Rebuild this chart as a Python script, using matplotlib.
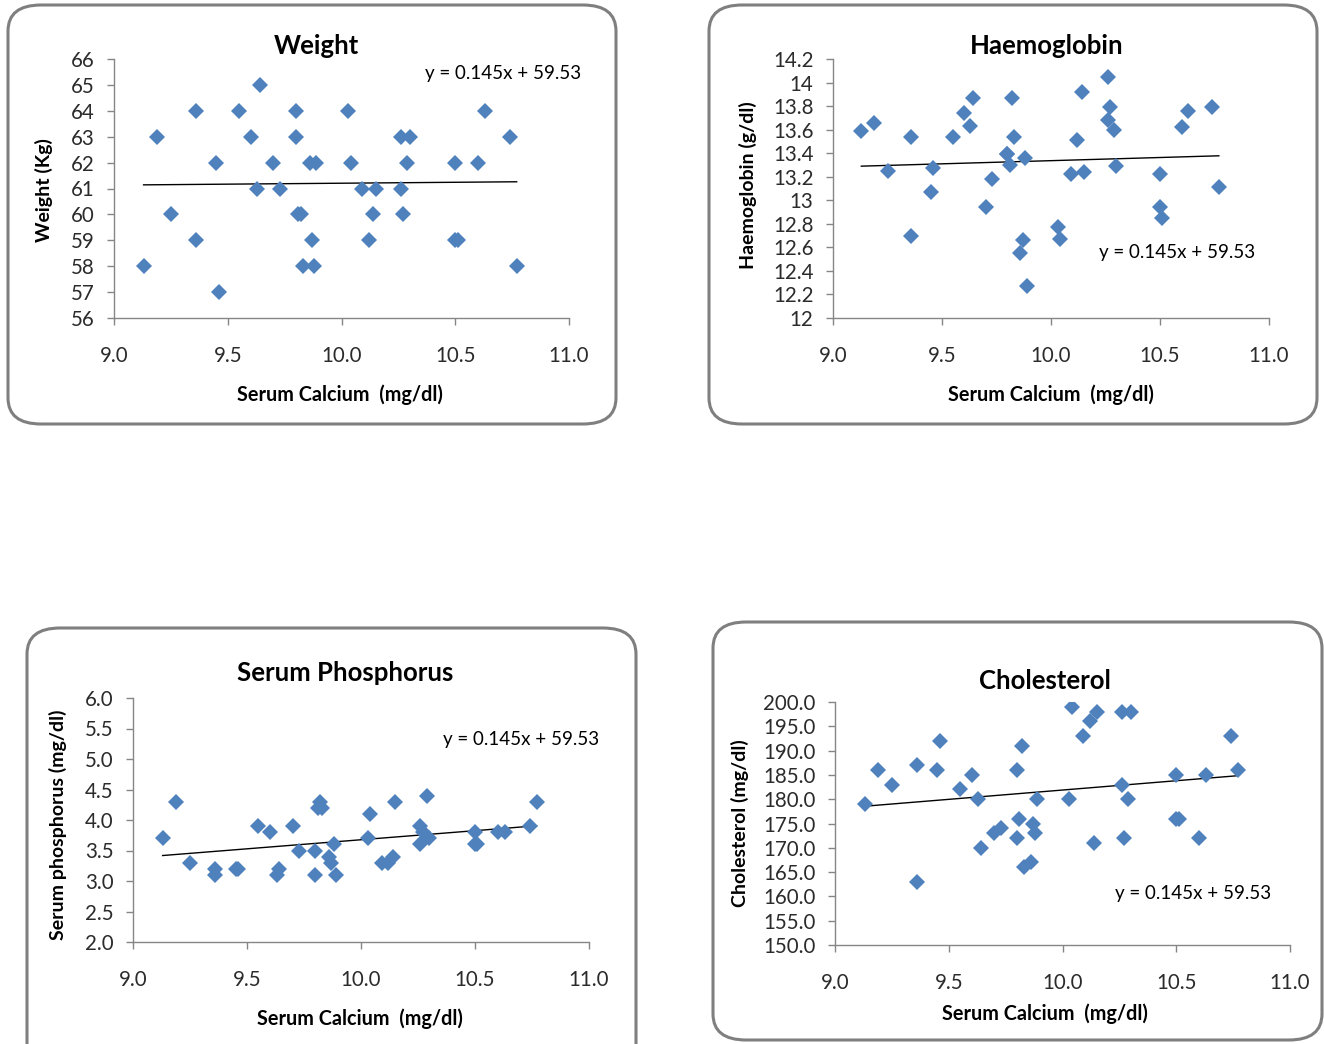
import numpy as np
import matplotlib
matplotlib.use("Agg")
import matplotlib.pyplot as plt
from matplotlib.patches import FancyBboxPatch

plt.rcParams['font.family'] = ['Lato', 'DejaVu Sans']

# serum calcium (mg/dl), shared x for every panel
calcium = [9.13, 9.19, 9.25, 9.36, 9.36, 9.45, 9.46, 9.55, 9.60, 9.63,
           9.64, 9.70, 9.73, 9.80, 9.80, 9.81, 9.82, 9.83, 9.86, 9.87,
           9.88, 9.89, 10.03, 10.04, 10.09, 10.12, 10.14, 10.15, 10.26, 10.26,
           10.27, 10.29, 10.30, 10.50, 10.50, 10.51, 10.60, 10.63, 10.74, 10.77]

weight = [58, 63, 60, 64, 59, 62, 57, 64, 63, 61,
          65, 62, 61, 64, 63, 60, 60, 58, 62, 59,
          58, 62, 64, 62, 61, 59, 60, 61, 63, 61,
          60, 62, 63, 62, 59, 59, 62, 64, 63, 58]

haemoglobin = [13.59, 13.66, 13.25, 13.54, 12.70, 13.07, 13.27, 13.54, 13.74, 13.63,
               13.87, 12.94, 13.18, 13.39, 13.39, 13.30, 13.87, 13.54, 12.55, 12.66,
               13.36, 12.27, 12.77, 12.67, 13.22, 13.51, 13.92, 13.24, 14.05, 13.68,
               13.79, 13.60, 13.29, 13.22, 12.94, 12.85, 13.62, 13.76, 13.79, 13.11]

phosphorus = [3.7, 4.3, 3.3, 3.2, 3.1, 3.2, 3.2, 3.9, 3.8, 3.1,
              3.2, 3.9, 3.5, 3.5, 3.1, 4.2, 4.3, 4.2, 3.4, 3.3,
              3.6, 3.1, 3.7, 4.1, 3.3, 3.3, 3.4, 4.3, 3.9, 3.6,
              3.8, 4.4, 3.7, 3.8, 3.6, 3.6, 3.8, 3.8, 3.9, 4.3]

cholesterol = [179, 186, 183, 187, 163, 186, 192, 182, 185, 180,
               170, 173, 174, 186, 172, 176, 191, 166, 167, 175,
               173, 180, 180, 199, 193, 196, 171, 198, 198, 183,
               172, 180, 198, 185, 176, 176, 172, 185, 193, 186]

equation = "y = 0.145x + 59.53"
xlabel = "Serum Calcium  (mg/dl)"

W, H = 1324, 1044
fig = plt.figure(figsize=(W / 100, H / 100), dpi=100)


def fx(x):
    return x / W


def fy(y):
    return 1 - y / H


blue = '#4F81BD'
grey = '#868686'

panels = [
    # title, ylabel, yvalues, ylim, ystep, yfmt, box, axes box, title pos, ylabel pos, xlabel pos, eq pos
    ("Weight", "Weight (Kg)", weight, (56, 66), 1, "{:.0f}",
     (8, 5, 616, 424), (114, 59, 569, 318), (316, 46), (44, 190), (340, 395), (503, 74)),
    ("Haemoglobin", "Haemoglobin (g/dl)", haemoglobin, (12, 14.2), 0.2, "{:g}",
     (709, 5, 1317, 424), (833, 59, 1269, 318), (1047, 46), (748, 185), (1051, 395), (1177, 253)),
    ("Serum Phosphorus", "Serum phosphorus (mg/dl)", phosphorus, (2.0, 6.0), 0.5, "{:.1f}",
     (27, 628, 636, 1070), (133, 698, 589, 942), (345, 673), (58, 825), (360, 1019), (521, 739)),
    ("Cholesterol", "Cholesterol (mg/dl)", cholesterol, (150, 200), 5, "{:.1f}",
     (713, 622, 1322, 1040), (835, 702, 1290, 945), (1045, 681), (740, 823), (1045, 1014), (1193, 893)),
]

for (title, ylab, yvals, ylim, ystep, yfmt, box, abox, tpos, ypos, xpos, epos) in panels:
    # rounded chart border
    x0, y0, x1, y1 = box
    patch = FancyBboxPatch((fx(x0), fy(y1)), fx(x1 - x0), (y1 - y0) / H,
                           boxstyle="round,pad=0,rounding_size=0.025",
                           transform=fig.transFigure, facecolor='none',
                           edgecolor='#7F7F7F', linewidth=2.2, zorder=0)
    fig.patches.append(patch)

    ax0, ay0, ax1, ay1 = abox
    ax = fig.add_axes([fx(ax0), fy(ay1), fx(ax1 - ax0), (ay1 - ay0) / H])
    ax.patch.set_alpha(0)
    ax.set_zorder(2)

    ax.plot(calcium, yvals, 'D', color=blue, markersize=7.8, markeredgewidth=0, zorder=3)

    # linear trendline
    k, b = np.polyfit(calcium, yvals, 1)
    xs = np.array([min(calcium), max(calcium)])
    ax.plot(xs, k * xs + b, color='black', linewidth=1.0, zorder=2)

    ax.set_xlim(9.0, 11.0)
    ax.set_ylim(*ylim)
    ax.set_xticks(np.arange(9.0, 11.01, 0.5))
    ax.set_xticklabels(["{:.1f}".format(v) for v in np.arange(9.0, 11.01, 0.5)])
    yt = np.arange(ylim[0], ylim[1] + ystep / 2, ystep)
    ax.set_yticks(yt)
    ax.set_yticklabels([yfmt.format(round(v, 2)) for v in yt])

    for s in ['top', 'right']:
        ax.spines[s].set_visible(False)
    for s in ['left', 'bottom']:
        ax.spines[s].set_color(grey)
        ax.spines[s].set_linewidth(1.0)
    ax.tick_params(axis='both', direction='out', length=5, width=1.0, color=grey,
                   labelsize=14.8, labelcolor='#2b2b2b')
    ax.tick_params(axis='x', pad=15)
    ax.tick_params(axis='y', pad=9)

    fig.text(fx(tpos[0]), fy(tpos[1]), title, ha='center', va='center',
             fontsize=18.5, fontweight='bold')
    fig.text(fx(ypos[0]), fy(ypos[1]), ylab, ha='center', va='center',
             rotation=90, fontsize=14, fontweight='bold')
    fig.text(fx(xpos[0]), fy(xpos[1]), xlabel, ha='center', va='center',
             fontsize=14.3, fontweight='bold')
    fig.text(fx(epos[0]), fy(epos[1]), equation, ha='center', va='center',
             fontsize=13.5)

fig.savefig("out.png", dpi=100)
